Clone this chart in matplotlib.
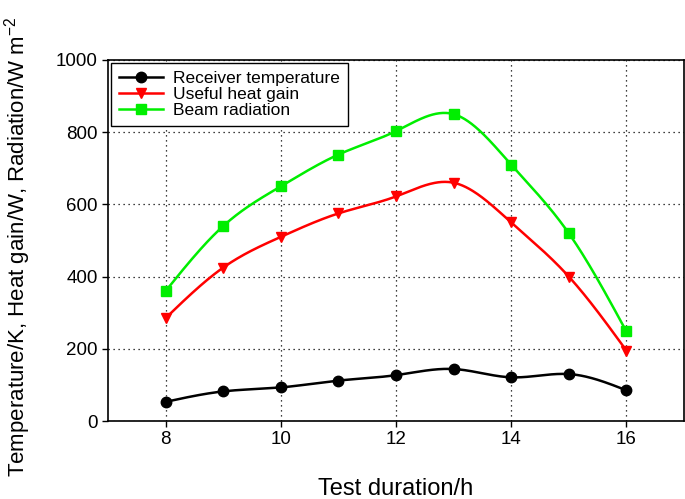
import numpy as np
import matplotlib
matplotlib.use("Agg")
import matplotlib.pyplot as plt

hours = [8, 9, 10, 11, 12, 13, 14, 15, 16]
receiver_temp = [53, 82, 93, 112, 127, 144, 121, 130, 85]
useful_heat = [285, 425, 510, 575, 622, 660, 550, 400, 195]
beam_rad = [360, 540, 650, 738, 803, 850, 710, 520, 248]
xticks = [8, 10, 12, 14, 16]
yticks = [0, 200, 400, 600, 800, 1000]


def natural_spline(x, y, n=400):
    x = np.asarray(x, float)
    y = np.asarray(y, float)
    k = len(x)
    h = np.diff(x)
    A = np.zeros((k, k))
    b = np.zeros(k)
    A[0, 0] = A[-1, -1] = 1
    for i in range(1, k - 1):
        A[i, i - 1] = h[i - 1]
        A[i, i] = 2 * (h[i - 1] + h[i])
        A[i, i + 1] = h[i]
        b[i] = 3 * ((y[i + 1] - y[i]) / h[i] - (y[i] - y[i - 1]) / h[i - 1])
    c = np.linalg.solve(A, b)
    xs = np.linspace(x[0], x[-1], n)
    ys = np.empty_like(xs)
    for j, xv in enumerate(xs):
        i = min(np.searchsorted(x, xv, side="right") - 1, k - 2)
        dx = xv - x[i]
        bi = (y[i + 1] - y[i]) / h[i] - h[i] * (2 * c[i] + c[i + 1]) / 3
        di = (c[i + 1] - c[i]) / (3 * h[i])
        ys[j] = y[i] + bi * dx + c[i] * dx ** 2 + di * dx ** 3
    return xs, ys


plt.rcParams['font.family'] = ['Liberation Sans', 'DejaVu Sans']
plt.rcParams['mathtext.fontset'] = 'custom'
plt.rcParams['mathtext.rm'] = 'Liberation Sans'
fig = plt.figure(figsize=(6.85, 4.99), dpi=100)
ax = fig.add_axes([108 / 685, 1 - 421 / 499, 576 / 685, 361 / 499])

series = [
    (receiver_temp, 'black', 'o', 'Receiver temperature', 7.5),
    (useful_heat, 'red', 'v', 'Useful heat gain', 7),
    (beam_rad, '#00ee00', 's', 'Beam radiation', 6.5),
]
for vals, col, mk, lab, ms in series:
    xs, ys = natural_spline(hours, vals)
    ax.plot(xs, ys, color=col, lw=1.8, zorder=3)
    ax.plot(hours, vals, linestyle='none', marker=mk, color=col, ms=ms, zorder=4)
    ax.plot([], [], color=col, lw=1.8, marker=mk, ms=ms, label=lab)

ax.set_xlim(7, 17)
ax.set_ylim(0, 1000)
ax.set_xticks(xticks)
ax.set_yticks(yticks)
ax.tick_params(direction='out', labelsize=13.5, length=4, width=1)
ax.grid(True, linestyle=(0, (1, 3)), color='black', lw=0.9)
for s in ax.spines.values():
    s.set_linewidth(1.2)
ax.set_xlabel('Test duration/h', fontsize=17, labelpad=21)
fig.text(18 / 685, 0.505,
         'Temperature/K, Heat gain/W, Radiation/W m$^{\\mathregular{-2}}$',
         fontsize=16, rotation=90, ha='center', va='center')

leg = ax.legend(loc='upper left', fontsize=12.5, frameon=True, fancybox=False,
                edgecolor='black', framealpha=1, handlelength=2.5,
                borderpad=0.45, labelspacing=0.05, borderaxespad=0.2,
                handletextpad=0.6)
leg.get_frame().set_linewidth(1.0)

fig.savefig('out.png', dpi=100)
